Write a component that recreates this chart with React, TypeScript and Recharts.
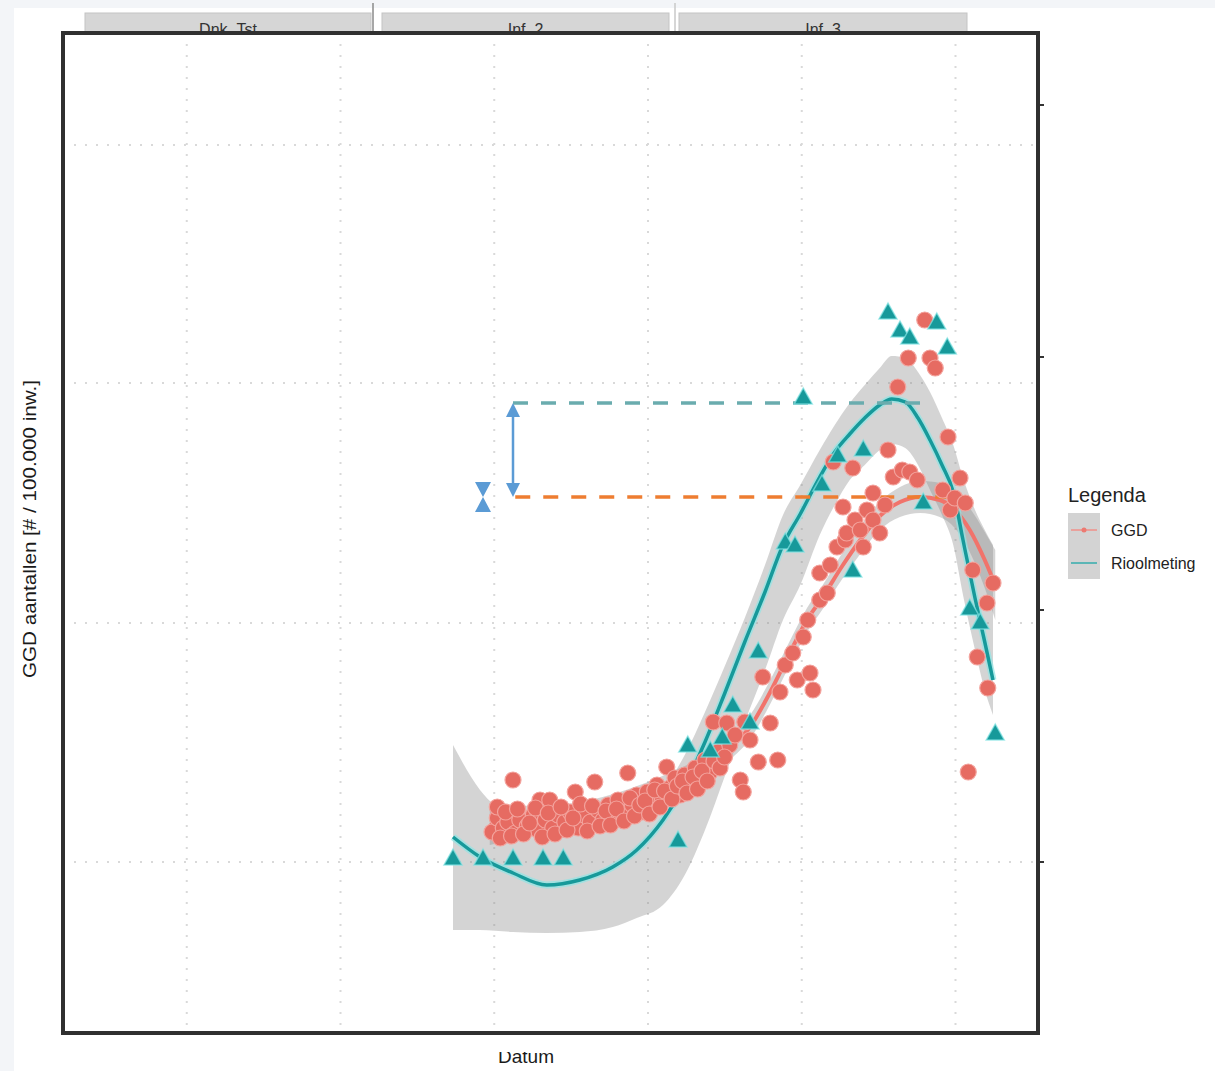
import React from 'react';
import {
  ComposedChart, Scatter, Line, Area, XAxis, YAxis, CartesianGrid,
  ReferenceLine, ReferenceDot,
} from 'recharts';

// ---------- values ----------
const facetLabels = ['Dnk_Tst', 'Inf_2', 'Inf_3'];
const seriesNames = ['GGD', 'Rioolmeting'];
const yTitle = 'GGD aantallen [# / 100.000 inw.]';
const xTitle = 'Datum';
const legendTitle = 'Legenda';

// GGD observations [day, value]
const ggdPoints: [number, number][] = [
  [57.2, 80.4], [57.9, 86.0], [57.9, 90.4], [58.7, 82.0], [59.3, 84.4], [60.0, 101.2], [60.3, 80.0],
  [60.9, 85.2], [61.9, 82.8], [62.7, 87.2], [63.3, 81.2], [63.6, 93.2], [64.3, 85.2], [64.9, 93.2],
  [65.3, 82.0], [66.0, 87.2], [66.9, 84.4], [67.6, 88.4], [68.3, 96.4], [68.7, 82.0], [69.5, 87.2],
  [70.3, 84.4], [70.9, 100.4], [71.3, 89.2], [72.0, 85.2], [72.7, 91.2], [73.3, 87.2], [74.0, 93.2],
  [74.5, 88.4], [75.3, 104.0], [75.9, 91.2], [76.5, 95.2], [77.2, 88.4], [77.9, 96.4], [78.5, 92.4],
  [79.2, 99.2], [79.9, 94.0], [80.5, 106.4], [80.9, 98.0], [81.6, 102.0], [82.3, 95.2], [82.9, 103.2],
  [83.6, 99.2], [84.3, 106.0], [84.9, 101.2], [85.6, 109.2], [86.3, 104.4], [86.7, 124.4], [87.3, 112.4],
  [88.5, 124.0], [88.9, 115.2], [89.6, 119.2], [90.3, 101.2], [90.7, 96.4], [90.9, 124.4], [91.6, 117.2],
  [92.7, 108.4], [93.3, 142.4], [94.3, 124.0], [95.3, 109.2], [95.6, 136.4], [96.3, 147.2], [97.3, 152.0],
  [97.9, 141.2], [98.7, 158.4], [99.3, 165.2], [99.6, 144.0], [100.0, 137.2], [100.9, 184.0], [100.9, 173.2],
  [101.9, 176.0], [102.3, 187.2], [102.7, 228.4], [103.2, 194.4], [104.0, 210.4], [104.3, 197.2], [104.5, 200.0],
  [105.3, 226.0], [105.6, 205.2], [106.3, 201.2], [106.7, 194.4], [107.2, 209.2], [108.0, 216.0], [108.0, 205.2],
  [108.9, 200.0], [109.6, 211.2], [110.0, 233.2], [110.7, 222.4], [111.3, 258.4], [111.9, 225.2], [112.7, 270.0],
  [112.9, 224.4], [113.9, 221.2], [114.9, 285.2], [115.6, 270.0], [116.3, 266.0], [117.3, 217.2], [118.0, 238.4],
  [118.3, 209.2], [118.9, 214.0], [119.6, 222.0], [120.3, 212.0], [120.7, 104.4], [121.3, 185.2], [121.9, 150.4],
  [123.2, 172.0], [123.3, 138.0], [124.0, 180.0],
  [58.3, 78.0], [59.0, 88.4], [59.8, 78.8], [60.6, 89.6], [61.4, 79.6], [62.2, 84.0], [63.0, 90.0],
  [63.9, 78.4], [64.7, 88.0], [65.6, 79.6], [66.4, 90.4], [67.2, 81.2], [68.0, 86.0], [69.0, 91.6],
  [69.9, 80.8], [70.6, 90.8], [71.6, 82.8], [72.4, 88.8], [73.0, 83.2], [73.8, 89.6], [74.8, 84.8],
  [75.6, 94.0], [76.2, 86.8], [76.9, 91.2], [77.6, 92.8], [78.2, 87.6], [78.9, 97.2], [79.6, 90.4],
  [80.2, 96.8], [81.2, 93.6], [81.9, 98.8], [82.6, 100.8], [83.2, 96.0], [84.0, 102.4], [84.6, 97.6],
  [85.2, 104.8], [85.9, 100.8], [86.8, 108.8], [87.6, 106.0], [88.2, 110.4],
];

// Rioolmeting observations [day, value]
const rioolPoints: [number, number][] = [
  [52.0, 70.0], [56.0, 70.0], [60.0, 70.0], [64.0, 70.0], [66.7, 70.0], [82.0, 77.2], [83.3, 115.2],
  [86.3, 113.2], [87.9, 118.4], [89.3, 131.2], [91.6, 124.4], [92.7, 152.8], [96.3, 196.4], [97.6, 195.2],
  [98.7, 254.4], [101.2, 219.6], [103.3, 231.2], [105.3, 185.2], [106.7, 233.6], [110.0, 288.4], [111.6, 281.2],
  [112.9, 278.4], [114.7, 212.4], [116.5, 284.4], [117.9, 274.4], [120.9, 170.0], [122.3, 164.4], [124.3, 120.0],
];

// smoothed trend [day, fit, lower, upper]
const ggdTrend: [number, number, number, number][] = [
  [56.9, 83.2, 75.2, 91.2], [63.6, 85.2, 79.6, 90.8], [70.3, 88.4, 83.6, 93.2], [76.9, 94.4, 89.6, 99.2],
  [82.3, 101.2, 96.4, 106.0], [86.3, 107.2, 102.4, 112.0], [88.9, 114.0, 109.2, 118.8], [91.6, 122.4, 117.6, 127.2],
  [94.3, 136.4, 131.6, 141.2], [96.9, 152.0, 147.2, 156.8], [99.2, 165.2, 160.4, 170.0], [101.3, 174.4, 169.6, 179.2],
  [103.9, 186.8, 181.6, 192.0], [106.3, 197.2, 191.6, 202.8], [108.9, 206.8, 201.2, 212.4], [111.6, 212.4, 206.4, 218.4],
  [114.3, 214.4, 208.0, 220.8], [116.9, 213.2, 206.4, 220.0], [118.9, 209.2, 202.0, 216.4], [120.9, 201.2, 192.4, 210.0],
  [122.9, 189.2, 178.0, 200.4], [124.3, 179.2, 165.2, 193.2],
];

const rioolTrend: [number, number, number, number][] = [
  [52.0, 78.4, 41.2, 115.2], [55.6, 70.4, 41.2, 97.2], [60.0, 64.0, 40.4, 86.0], [64.5, 59.2, 40.0, 80.4],
  [68.9, 61.2, 40.4, 79.2], [73.3, 66.4, 42.4, 82.0], [76.5, 73.2, 46.0, 87.2], [80.0, 85.2, 51.2, 97.2],
  [82.9, 99.2, 63.2, 111.2], [85.6, 116.4, 81.2, 128.4], [88.3, 136.4, 103.2, 147.2], [90.9, 156.4, 124.4, 166.0],
  [93.6, 176.4, 145.2, 187.2], [96.0, 195.2, 165.2, 207.2], [98.3, 207.6, 179.2, 219.2], [100.9, 222.4, 199.2, 233.2],
  [102.9, 232.4, 211.2, 243.2], [104.9, 239.6, 221.2, 252.0], [106.9, 246.0, 227.2, 259.2], [108.9, 251.2, 233.2, 266.0],
  [110.5, 253.6, 235.6, 270.8], [112.3, 252.4, 234.0, 270.0], [114.0, 246.0, 227.2, 264.4], [115.6, 237.2, 217.2, 256.4],
  [117.2, 227.2, 207.2, 246.0], [118.7, 216.4, 195.2, 235.2], [120.0, 197.2, 175.2, 222.0], [121.6, 174.0, 153.2, 209.2],
  [122.9, 156.4, 137.2, 201.2], [124.0, 141.2, 127.2, 195.2],
];

const xGrid = [16.5, 37, 57.5, 78, 98.5, 119];
const yGrid = [68.4, 164, 260, 355.2];
const yTicks = [68.4, 169.2, 270.4, 371.2];

// annotations (peak levels)
const rioolPeakLine = { from: 60.0, to: 114.3, level: 252.0 };
const ggdPeakLine = { from: 60.3, to: 118.4, level: 214.4 };
const peakGap = { x: 60.0, top: 252.0, bottom: 214.4 };
const gapMarker = { x: 56.0, y: 214.4 };

// ---------- derived tables ----------
const ggdData = ggdPoints.map(([x, y]) => ({ x, y }));
const rioolData = rioolPoints.map(([x, y]) => ({ x, y }));
const ggdFit = ggdTrend.map(([x, y, lo, hi]) => ({ x, fit: y, band: [lo, hi] }));
const rioolFit = rioolTrend.map(([x, y, lo, hi]) => ({ x, fit: y, band: [lo, hi] }));

const RED = '#e66b62';
const TEAL = '#17999a';
const FONT = '"Liberation Sans", Arial, sans-serif';

const W = 1215;
const H = 1071;
const PLOT = { left: 63, top: 33, right: 1038, bottom: 1033 };

const Circle = (p: any) => (
  <circle cx={p.cx} cy={p.cy} r={8} fill={RED} stroke="#f3a39d" strokeWidth={1.2} />
);
const Tri = (p: any) => (
  <polygon
    points={`${p.cx},${p.cy - 9} ${p.cx - 9},${p.cy + 7} ${p.cx + 9},${p.cy + 7}`}
    fill={TEAL}
    stroke="#7fe3e3"
    strokeWidth={1.5}
    strokeOpacity={0.7}
  />
);

const ArrowShape = (p: any) => {
  const { x1, y1, x2, y2 } = p;
  const top = Math.min(y1, y2);
  const bot = Math.max(y1, y2);
  const c = '#5b9bd5';
  return (
    <g>
      <line x1={x1} y1={top + 10} x2={x2} y2={bot - 10} stroke={c} strokeWidth={2.5} />
      <polygon points={`${x1},${top} ${x1 - 7},${top + 14} ${x1 + 7},${top + 14}`} fill={c} />
      <polygon points={`${x1},${bot} ${x1 - 7},${bot - 14} ${x1 + 7},${bot - 14}`} fill={c} />
    </g>
  );
};

const BowTie = (p: any) => {
  const { cx, cy } = p;
  const c = '#5b9bd5';
  return (
    <g>
      <polygon points={`${cx - 8},${cy - 15} ${cx + 8},${cy - 15} ${cx},${cy}`} fill={c} />
      <polygon points={`${cx - 8},${cy + 15} ${cx + 8},${cy + 15} ${cx},${cy}`} fill={c} />
    </g>
  );
};

const stripBoxes = [
  { left: 85, right: 371 },
  { left: 382, right: 669 },
  { left: 679, right: 967 },
];

export default function App() {
  return (
    <div style={{ position: 'absolute', left: 0, top: 0, width: W, height: H, background: '#f3f5f8', overflow: 'hidden', fontFamily: FONT }}>
      <div style={{ position: 'absolute', left: 14, top: 8, width: W - 14, height: H - 8, background: '#ffffff' }} />
      {/* facet strips (behind plot) */}
      <svg width={W} height={H} style={{ position: 'absolute', left: 0, top: 0 }}>
        {stripBoxes.map((b, i) => (
          <g key={i}>
            <rect x={b.left} y={13} width={b.right - b.left} height={30} fill="#d6d6d6" stroke="#c4c4c4" strokeWidth={1} />
            <text x={(b.left + b.right) / 2} y={35} textAnchor="middle" fontSize={16} fill="#333" fontFamily={FONT}>
              {facetLabels[i]}
            </text>
          </g>
        ))}
        <line x1={373} y1={3} x2={373} y2={33} stroke="#8a8a8a" strokeWidth={1.5} />
        <line x1={675} y1={3} x2={675} y2={33} stroke="#c8c8c8" strokeWidth={1.5} />
      </svg>

      <div style={{ position: 'absolute', left: 0, top: 0 }}>
        <ComposedChart
          width={W}
          height={H}
          margin={{ top: PLOT.top, left: PLOT.left, right: W - PLOT.right - 1, bottom: H - PLOT.bottom }}
        >
          <CartesianGrid
            fill="#ffffff"
            stroke="#d9d9d9"
            strokeWidth={2}
            strokeDasharray="2 9"
            horizontalValues={yGrid}
            verticalValues={xGrid}
          />
          <XAxis type="number" dataKey="x" domain={[0, 130]} allowDataOverflow hide />
          <YAxis
            type="number"
            dataKey="y"
            orientation="right"
            domain={[0, 400]}
            allowDataOverflow
            ticks={yTicks}
            width={1}
            axisLine={false}
            tickSize={6}
            tickLine={{ stroke: '#333', strokeWidth: 2 }}
            tick={() => <g />}
          />
          <Area data={rioolFit} dataKey="band" type="monotone" stroke="none" fill="#8f8f8f" fillOpacity={0.38} isAnimationActive={false} />
          <Area data={ggdFit} dataKey="band" type="monotone" stroke="none" fill="#8f8f8f" fillOpacity={0.38} isAnimationActive={false} />
          <Scatter data={ggdData} shape={Circle} isAnimationActive={false} />
          <Scatter data={rioolData} shape={Tri} isAnimationActive={false} />
          <Line data={ggdFit} dataKey="fit" type="monotone" stroke="#f1736b" strokeWidth={4} dot={false} isAnimationActive={false} />
          <Line data={rioolFit} dataKey="fit" type="monotone" stroke="#8fe6e6" strokeWidth={7} strokeOpacity={0.7} dot={false} isAnimationActive={false} />
          <Line data={rioolFit} dataKey="fit" type="monotone" stroke={TEAL} strokeWidth={3.5} dot={false} isAnimationActive={false} />
          <ReferenceLine
            segment={[{ x: rioolPeakLine.from, y: rioolPeakLine.level }, { x: rioolPeakLine.to, y: rioolPeakLine.level }]}
            stroke="#6aacae"
            strokeWidth={3.5}
            strokeDasharray="15 13"
          />
          <ReferenceLine
            segment={[{ x: ggdPeakLine.from, y: ggdPeakLine.level }, { x: ggdPeakLine.to, y: ggdPeakLine.level }]}
            stroke="#ee7d31"
            strokeWidth={3.5}
            strokeDasharray="15 13"
          />
          <ReferenceLine
            segment={[{ x: peakGap.x, y: peakGap.top }, { x: peakGap.x, y: peakGap.bottom }]}
            shape={ArrowShape}
          />
          <ReferenceDot x={gapMarker.x} y={gapMarker.y} r={1} shape={BowTie} />
        </ComposedChart>
      </div>

      {/* frame, titles and legend */}
      <svg width={W} height={H} style={{ position: 'absolute', left: 0, top: 0, pointerEvents: 'none' }}>
        <defs>
          <clipPath id="xlabClip">
            <rect x={0} y={1052} width={W} height={40} />
          </clipPath>
        </defs>
        <rect
          x={PLOT.left}
          y={PLOT.top}
          width={PLOT.right - PLOT.left}
          height={PLOT.bottom - PLOT.top}
          fill="none"
          stroke="#303030"
          strokeWidth={4}
        />
        <text
          transform="translate(36,529) rotate(-90)"
          textAnchor="middle"
          fontSize={18}
          textLength={298}
          lengthAdjust="spacingAndGlyphs"
          fill="#1a1a1a"
          fontFamily={FONT}
        >
          {yTitle}
        </text>
        <text x={526} y={1063} textAnchor="middle" fontSize={19} fill="#1a1a1a" fontFamily={FONT} clipPath="url(#xlabClip)">
          {xTitle}
        </text>
        <text x={1068} y={502} fontSize={20} fill="#222" fontFamily={FONT}>{legendTitle}</text>
        <rect x={1068} y={513} width={32} height={33} fill="#d3d3d3" />
        <rect x={1068} y={546} width={32} height={33} fill="#d3d3d3" />
        <line x1={1071} y1={530} x2={1097} y2={530} stroke="#f0908a" strokeWidth={1.5} />
        <circle cx={1084} cy={530} r={2.5} fill="#ec7a72" />
        <line x1={1071} y1={563} x2={1097} y2={563} stroke="#35adad" strokeWidth={1.5} />
        <text x={1111} y={536} fontSize={16} fill="#222" fontFamily={FONT}>{seriesNames[0]}</text>
        <text x={1111} y={569} fontSize={16} fill="#222" fontFamily={FONT}>{seriesNames[1]}</text>
      </svg>
    </div>
  );
}
